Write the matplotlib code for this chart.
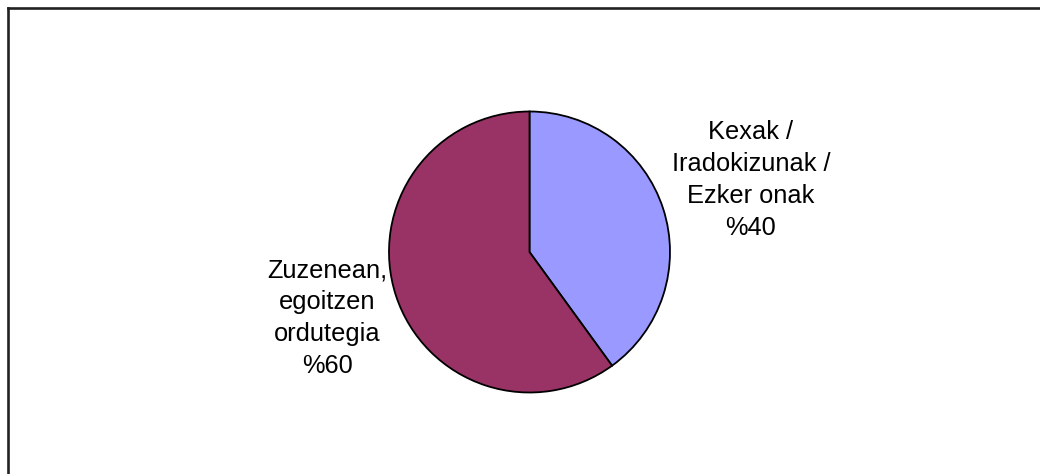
import matplotlib
matplotlib.use('Agg')
import matplotlib.pyplot as plt
from matplotlib.lines import Line2D

# slices, clockwise from 12 o'clock
labels = ['Kexak /\nIradokizunak /\nEzker onak', 'Zuzenean,\negoitzen\nordutegia']
percents = [40, 60]
colors = ['#9999FF', '#993366']

# where each label block sits (figure fraction)
label_pos = [(0.722, 0.620), (0.315, 0.329)]

plt.rcParams['font.family'] = ['Liberation Sans', 'DejaVu Sans']

fig = plt.figure(figsize=(10.4, 4.74), dpi=100)
fig.patch.set_facecolor('white')

# pie centred at ~(530, 252) px, radius ~140 px
w = 281 / 1040.
h = 281 / 474.
ax = fig.add_axes([529.5 / 1040. - w / 2, (1 - 252 / 474.) - h / 2, w, h])
ax.pie(percents, colors=colors, startangle=90, counterclock=False,
       wedgeprops={'edgecolor': 'black', 'linewidth': 1.3})
ax.set_xlim(-1.0, 1.0)
ax.set_ylim(-1.0, 1.0)
ax.set_aspect('equal')
ax.axis('off')

for lab, p, (x, y) in zip(labels, percents, label_pos):
	fig.text(x, y, lab + '\n%' + str(p), ha='center', va='center',
	         multialignment='center', fontsize=18.3, color='black', linespacing=1.42)

# chart area frame (only top and left edges show)
fig.add_artist(Line2D([7.5 / 1040., 7.5 / 1040.], [0, 1 - 7.5 / 474.], transform=fig.transFigure,
                      color='#222222', linewidth=1.9))
fig.add_artist(Line2D([7.5 / 1040., 1], [1 - 7.5 / 474., 1 - 7.5 / 474.], transform=fig.transFigure,
                      color='#222222', linewidth=1.9))

fig.savefig('out.png', dpi=100, facecolor='white')
